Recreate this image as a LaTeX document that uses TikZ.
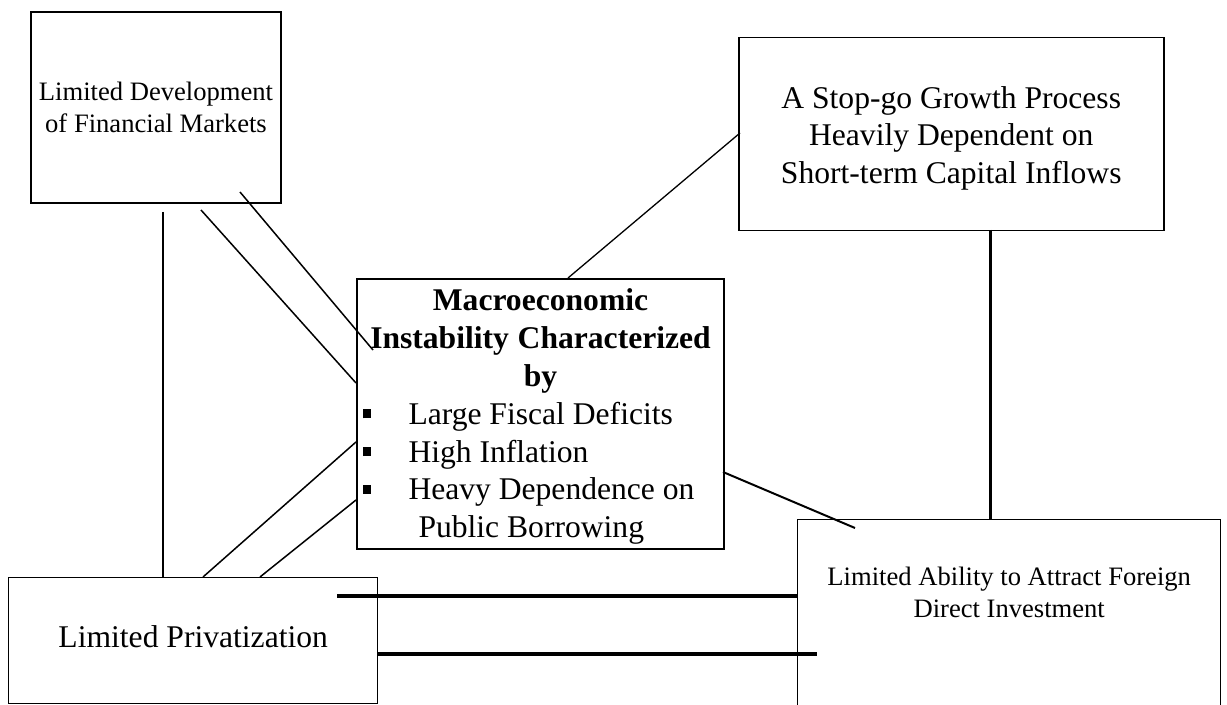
\documentclass[tikz,border=0pt]{standalone}
\usepackage{fontspec}
\setmainfont{Liberation Serif}
\usepackage{tikz}
\usetikzlibrary{calc}
\newcommand{\blt}[1]{\makebox[183pt][l]{\makebox[25.5pt][l]{\hspace*{2.5pt}\rule[3pt]{4pt}{4.5pt}}#1}}
\tikzset{
  panel/.style   ={draw, line width=#1, inner sep=0pt, anchor=north west, align=center},
  panel/.default =0.7pt,
  smalltxt/.style={font=\fontsize{13.3}{16}\selectfont},
  bigtxt/.style  ={font=\fontsize{15.8}{18.9}\selectfont},
  tie/.style     ={line width=#1},
  tie/.default   =0.75pt,
}

\begin{document}
\begin{tikzpicture}[x=0.5pt,y=-0.5pt]
\useasboundingbox (0,0) rectangle (1227,705);
\clip (0,0) rectangle (1227,705);

% boxes
\node[panel=1pt, smalltxt, minimum width=125pt, text height=60.5pt, text depth=35pt] (fin) at (30,11) {Limited Development\\of Financial Markets};
\node[panel=0.75pt, bigtxt, minimum width=212.5pt, text height=73pt, text depth=23.5pt] (sgo) at (738,37) {A Stop-go Growth Process\\Heavily Dependent on\\Short-term Capital Inflows};
\node[panel=1pt, bigtxt, text width=183.5pt, text height=16pt, text depth=119pt] (macro) at (356,278)
  {\spaceskip=0pt\xspaceskip=0pt\relax
   \textbf{Macroeconomic}\\\textbf{Instability Characterized}\\\textbf{by}\\
   \blt{Large Fiscal Deficits}\\\blt{High Inflation}\\\blt{Heavy Dependence on}\\
   \makebox[183pt][l]{\hspace*{30.5pt}Public Borrowing}};
\node[panel, bigtxt, minimum width=184.5pt, text height=35pt, text depth=28pt] (priv) at (8,577) {Limited Privatization};
\node[panel, smalltxt, minimum width=211.5pt, text height=49pt, text depth=104pt] (fdi) at (797,519) {Limited Ability to Attract Foreign\\Direct Investment};

% free ends
\coordinate (f1) at (163,212);
\coordinate (f2) at (201,210);
\coordinate (f3) at (240,192);
\coordinate (m2) at (356,383);
\coordinate (m3) at (373,350);
\coordinate (p1) at (203,577);
\coordinate (p2) at (260,577);
\coordinate (m4) at (356,442);
\coordinate (m5) at (356,500);
\coordinate (m6) at (723,472);
\coordinate (d1) at (855,528);
\coordinate (m7) at (568,278);
\coordinate (s1) at (740,133);
\coordinate (g1) at (990,230);
\coordinate (h1) at (337,596);
\coordinate (h2) at (377,654);
\coordinate (h3) at (817,654);

% links
\draw[tie=1.3pt] (f1) -- (f1 |- priv.north);
\draw[tie] (f2) -- (m2);
\draw[tie] (f3) -- (m3);
\draw[tie] (p1) -- (m4);
\draw[tie] (p2) -- (m5);
\draw[tie=1pt] (m6) -- (d1);
\draw[tie=0.65pt] (m7) -- (s1);
\draw[tie=1.5pt] (g1) -- (g1 |- fdi.north);
\draw[tie=1.6pt] (h1) -- (h1 -| fdi.west);
\draw[tie=1.6pt] (h2) -- (h3);
\end{tikzpicture}
\end{document}
